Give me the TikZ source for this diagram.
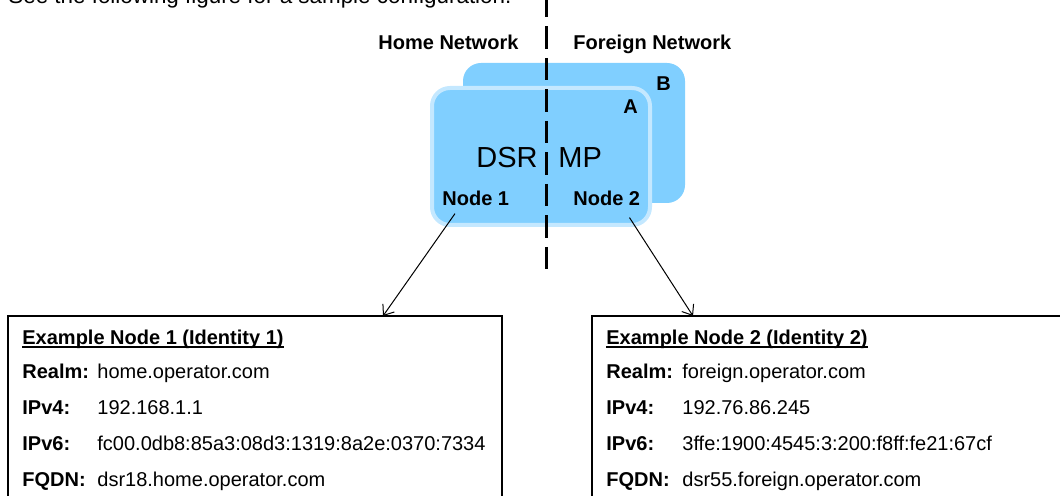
\documentclass[tikz,border=0pt]{standalone}
\usepackage{fontspec}
\setmainfont{Liberation Sans}
\usepackage{xcolor}
\usetikzlibrary{arrows.meta}

\definecolor{mpblue}{HTML}{80CFFF}
\definecolor{mpedge}{HTML}{C4E8FF}

\tikzset{
  txt/.style      = {anchor=base west, inner sep=0pt},
  boldtxt/.style  = {txt, font=\bfseries},
  bigtxt/.style   = {inner sep=0pt, font=\fontsize{14.5}{17}\selectfont},
  mpbox/.style    = {fill=mpblue, rounded corners=9pt},
  border/.style   = {line width=1.5pt, dash pattern=on 11.25pt off 4.5pt},
  infobox/.style  = {draw=black, line width=0.8pt},
  uline/.style    = {line width=0.7pt},
  pointer/.style  = {line width=0.5pt, -{Straight Barb[length=4.5pt,width=7pt,line width=0.5pt]}},
}

\begin{document}
\begin{tikzpicture}[x=0.5pt, y=-0.5pt]
    \useasboundingbox (0,0) rectangle (1060,496);
    \clip (0,0) rectangle (1060,496);

    % intro line, cut by the page top
    \node[txt, font=\fontsize{11.2}{13}\selectfont] (intro) at (8,4)
      {See the following figure for a sample configuration.};

    % the two MP boxes
    \fill[mpbox] (463,63) rectangle (685,203);
    \filldraw[mpbox, draw=mpedge, line width=2pt] (432,88) rectangle (650,225);

    \node[boldtxt] (labB) at (656,91)  {B};
    \node[boldtxt] (labA) at (623,114) {A};

    \node[bigtxt, anchor=base east] (dsr) at (538,168) {DSR};
    \node[bigtxt, anchor=base west] (mp)  at (558,168) {MP};

    \node[boldtxt] (n1) at (442,206) {Node 1};
    \node[boldtxt] (n2) at (573,206) {Node 2};

    % network border
    \coordinate (btop) at (546,-5);
    \coordinate (bbot) at (546,270);
    \draw[border] (btop) -- (bbot);

    \node[boldtxt] (home) at (378,50) {Home Network};
    \node[boldtxt] (frgn) at (573,50) {Foreign Network};

    % identity boxes
    \draw[infobox] (8,316) rectangle (502,530);
    \draw[infobox] (592,316) rectangle (1080,530);

    \node[boldtxt] (h1) at (22,345) {Example Node 1 (Identity 1)};
    \draw[uline] ([yshift=-1pt]h1.base west) -- ([yshift=-1pt]h1.base east);
    \node[boldtxt] at (22,379) {Realm:};
    \node[boldtxt] at (22,415) {IPv4:};
    \node[boldtxt] at (22,451) {IPv6:};
    \node[boldtxt] at (22,487) {FQDN:};
    \node[txt] at (97,379) {home.operator.com};
    \node[txt] at (97,415) {192.168.1.1};
    \node[txt] at (97,451) {fc00.0db8:85a3:08d3:1319:8a2e:0370:7334};
    \node[txt] at (97,487) {dsr18.home.operator.com};

    \node[boldtxt] (h2) at (606,345) {Example Node 2 (Identity 2)};
    \draw[uline] ([yshift=-1pt]h2.base west) -- ([yshift=-1pt]h2.base east);
    \node[boldtxt] at (606,379) {Realm:};
    \node[boldtxt] at (606,415) {IPv4:};
    \node[boldtxt] at (606,451) {IPv6:};
    \node[boldtxt] at (606,487) {FQDN:};
    \node[txt] at (682,379) {foreign.operator.com};
    \node[txt] at (682,415) {192.76.86.245};
    \node[txt] at (682,451) {3ffe:1900:4545:3:200:f8ff:fe21:67cf};
    \node[txt] at (682,487) {dsr55.foreign.operator.com};

    % pointers
    \coordinate (in1) at (383,316);
    \coordinate (in2) at (693,316);
    \draw[pointer] ([shift={(13,7)}]n1.south west) -- (in1);
    \draw[pointer] ([shift={(-11,11)}]n2.south east) -- (in2);

\end{tikzpicture}
\end{document}
